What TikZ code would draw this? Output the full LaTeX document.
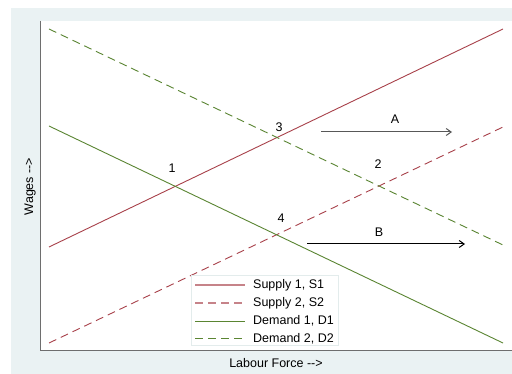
\documentclass[tikz,border=0pt]{standalone}
\usepackage{fontspec}
\setmainfont{Liberation Sans}
\usetikzlibrary{arrows.meta}
\definecolor{bgblue}{HTML}{EAF2F3}
\definecolor{sred}{HTML}{A8414A}
\definecolor{dgreen}{HTML}{5A8532}
\definecolor{axisgray}{HTML}{6E6E6E}
\definecolor{legborder}{HTML}{E3ECEC}
\tikzset{
  txt/.style={font=\fontsize{12.5}{15}\selectfont, inner sep=0pt},
  sone/.style={draw=sred, line width=0.9pt},
  stwo/.style={draw=sred, line width=0.9pt, dash pattern=on 8pt off 5pt},
  done/.style={draw=dgreen, line width=0.9pt},
  dtwo/.style={draw=dgreen, line width=0.9pt, dash pattern=on 8pt off 5pt},
  shiftarrow/.style={line width=1pt, -{Straight Barb[length=5pt,width=7pt]}},
}
\begin{document}
\begin{tikzpicture}[x=1pt,y=-1pt]
\useasboundingbox (0,0) rectangle (512,374);
\fill[white] (0,0) rectangle (512,374);
\fill[bgblue] (11,8) rectangle (512,374);
\fill[white] (41,21) rectangle (512,350);
% axes
\draw[axisgray, line width=1.5pt] (40.5,21) -- (40.5,350.5) -- (512,350.5);
% endpoints
\coordinate (s1a) at (49,247); \coordinate (s1b) at (503,29);
\coordinate (s2a) at (49,343); \coordinate (s2b) at (503,127);
\coordinate (d1a) at (49,126); \coordinate (d1b) at (503,343);
\coordinate (d2a) at (49,29);  \coordinate (d2b) at (503,245);
\draw[sone] (s1a) -- (s1b);
\draw[stwo] (s2a) -- (s2b);
\draw[done] (d1a) -- (d1b);
\draw[dtwo] (d2a) -- (d2b);
% intersection labels
\node[txt] (p1) at (172,168) {1};
\node[txt] (p3) at (279,127) {3};
\node[txt] (p2) at (378,164) {2};
\node[txt] (p4) at (281,218) {4};
% shift arrows
\coordinate (aA) at (321,132); \coordinate (bA) at (452,132);
\draw[shiftarrow, draw=axisgray!80!black] (aA) -- (bA);
\node[txt] (lA) at (395,119) {A};
\coordinate (aB) at (307,244); \coordinate (bB) at (465,244);
\draw[shiftarrow, draw=black] (aB) -- (bB);
\node[txt] (lB) at (379,232) {B};
% legend
\draw[legborder, fill=white, line width=0.6pt] (191,275) rectangle (338,345);
\coordinate (l1a) at (195,285); \coordinate (l1b) at (245,285);
\coordinate (l2a) at (195,303); \coordinate (l2b) at (245,303);
\coordinate (l3a) at (195,321); \coordinate (l3b) at (245,321);
\coordinate (l4a) at (195,338.5); \coordinate (l4b) at (245,338.5);
\draw[sone, line width=1.2pt, draw=sred!65] (l1a) -- (l1b);
\draw[stwo, line width=1.2pt, draw=sred!65] (l2a) -- (l2b);
\draw[done] (l3a) -- (l3b);
\draw[dtwo] (l4a) -- (l4b);
\node[txt, anchor=west] (t1) at (253,285) {Supply 1, S1};
\node[txt, anchor=west] (t2) at (253,303) {Supply 2, S2};
\node[txt, anchor=west] (t3) at (253,321) {Demand 1, D1};
\node[txt, anchor=west] (t4) at (253,338.5) {Demand 2, D2};
% axis titles
\node[txt, rotate=90] (ylab) at (30,186.5) {Wages -{}-{}>};
\node[txt] (xlab) at (276,363) {Labour Force -{}-{}>};
\end{tikzpicture}
\end{document}
